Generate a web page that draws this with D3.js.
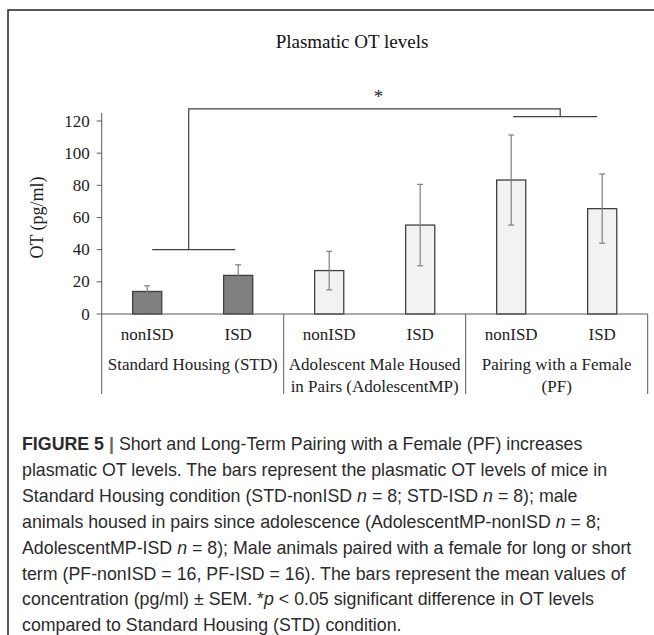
<!DOCTYPE html>
<html>
<head>
<meta charset="utf-8">
<script src="https://cdn.jsdelivr.net/npm/d3@7"></script>
<style>
  body { margin: 0; background: #fff; }
  svg { display: block; }
</style>
</head>
<body>
<div id="chart"></div>
<script>
// data (pg/ml, mean and SEM)
const groups = ["Standard Housing (STD)", "Adolescent Male Housed|in Pairs (AdolescentMP)", "Pairing with a Female|(PF)"];
const conditions = ["nonISD", "ISD"];
const means = [14, 24, 27, 55.3, 83.3, 65.5];
const sems = [3.5, 6.6, 12, 25.3, 28, 21.5];
const barFills = ["#7f7f7f", "#7f7f7f", "#f2f2f2", "#f2f2f2", "#f2f2f2", "#f2f2f2"];
const yTicks = [0, 20, 40, 60, 80, 100, 120];

// caption lines: [text, style] pieces
const caption = [
  [["FIGURE 5", "b"], [" | ", "bar"], ["Short and Long-Term Pairing with a Female (PF) increases", ""]],
  [["plasmatic OT levels. The bars represent the plasmatic OT levels of mice in", ""]],
  [["Standard Housing condition (STD-nonISD ", ""], ["n", "i"], [" = 8; STD-ISD ", ""], ["n", "i"], [" = 8); male", ""]],
  [["animals housed in pairs since adolescence (AdolescentMP-nonISD ", ""], ["n", "i"], [" = 8;", ""]],
  [["AdolescentMP-ISD ", ""], ["n", "i"], [" = 8); Male animals paired with a female for long or short", ""]],
  [["term (PF-nonISD = 16, PF-ISD = 16). The bars represent the mean values of", ""]],
  [["concentration (pg/ml) \u00b1 SEM. *", ""], ["p", "i"], [" < 0.05 significant difference in OT levels", ""]],
  [["compared to Standard Housing (STD) condition.", ""]]
];

const width = 654, height = 635;
const serif = "'Liberation Serif', 'Times New Roman', serif";

const svg = d3.select("#chart").append("svg")
  .attr("width", width)
  .attr("height", height);

// frame lines (left + top)
svg.append("path")
  .attr("d", "M8,635V10H654")
  .attr("fill", "none")
  .attr("stroke", "#222")
  .attr("stroke-width", 1.5);

// build bar rows
const bars = [];
groups.forEach((g, gi) => {
  conditions.forEach((c, ci) => {
    const i = gi * 2 + ci;
    bars.push({ key: g + "/" + c, group: gi, cond: c, mean: means[i], sem: sems[i], fill: barFills[i] });
  });
});

const x = d3.scaleBand()
  .domain(bars.map(d => d.key))
  .range([101.7, 647.7]);

const y = d3.scaleLinear()
  .domain([0, 120])
  .range([314, 121]);

const cx = d => x(d.key) + x.bandwidth() / 2;
const barW = x.bandwidth() * 0.32;

// title
svg.append("text")
  .attr("x", 352)
  .attr("y", 48)
  .attr("text-anchor", "middle")
  .style("font-family", serif)
  .style("font-size", "19px")
  .attr("fill", "#111")
  .text("Plasmatic OT levels");

// y axis
const yAxis = svg.append("g")
  .attr("transform", `translate(${x.range()[0]},0)`);
yAxis.append("line")
  .attr("y1", y(0))
  .attr("y2", y(125))
  .attr("stroke", "#595959");
yAxis.selectAll(".tick")
  .data(yTicks)
  .join("g")
  .attr("class", "tick")
  .attr("transform", d => `translate(0,${y(d)})`)
  .each(function (d) {
    const g = d3.select(this);
    g.append("line").attr("x1", -5).attr("x2", 0).attr("stroke", "#595959");
    g.append("text")
      .attr("x", -12)
      .attr("dy", "0.33em")
      .attr("text-anchor", "end")
      .style("font-family", serif)
      .style("font-size", "17px")
      .attr("fill", "#222")
      .text(d);
  });

svg.append("text")
  .attr("transform", `translate(43,${y(60)}) rotate(-90)`)
  .attr("text-anchor", "middle")
  .style("font-family", serif)
  .style("font-size", "18px")
  .attr("fill", "#222")
  .text("OT (pg/ml)");

// bars
svg.selectAll(".bar")
  .data(bars)
  .join("rect")
  .attr("class", "bar")
  .attr("x", d => cx(d) - barW / 2)
  .attr("y", d => y(d.mean))
  .attr("width", barW)
  .attr("height", d => y(0) - y(d.mean))
  .attr("fill", d => d.fill)
  .attr("stroke", "#404040")
  .attr("stroke-width", 1.3);

// error bars
const err = svg.selectAll(".err")
  .data(bars)
  .join("g")
  .attr("class", "err")
  .attr("stroke", "#7f7f7f")
  .attr("stroke-width", 1.2);
err.append("line")
  .attr("x1", cx).attr("x2", cx)
  .attr("y1", d => y(d.mean + d.sem))
  .attr("y2", d => y(d.mean - d.sem));
err.append("line")
  .attr("x1", d => cx(d) - 3).attr("x2", d => cx(d) + 3)
  .attr("y1", d => y(d.mean + d.sem)).attr("y2", d => y(d.mean + d.sem));
err.append("line")
  .attr("x1", d => cx(d) - 3).attr("x2", d => cx(d) + 3)
  .attr("y1", d => y(d.mean - d.sem)).attr("y2", d => y(d.mean - d.sem));

// x axis + group boxes
const axisBottom = 394;
svg.append("line")
  .attr("x1", x.range()[0]).attr("x2", x.range()[1])
  .attr("y1", y(0)).attr("y2", y(0))
  .attr("stroke", "#595959");
const seps = [0, 2, 4].map(i => x(bars[i].key)).concat([x.range()[1]]);
svg.selectAll(".sep")
  .data(seps)
  .join("line")
  .attr("class", "sep")
  .attr("x1", d => d).attr("x2", d => d)
  .attr("y1", y(0)).attr("y2", axisBottom)
  .attr("stroke", "#595959");

svg.selectAll(".cond")
  .data(bars)
  .join("text")
  .attr("class", "cond")
  .attr("x", cx)
  .attr("y", 340)
  .attr("text-anchor", "middle")
  .style("font-family", serif)
  .style("font-size", "17px")
  .attr("fill", "#222")
  .text(d => d.cond);

groups.forEach((g, gi) => {
  const mid = (seps[gi] + seps[gi + 1]) / 2;
  g.split("|").forEach((line, li) => {
    svg.append("text")
      .attr("x", mid)
      .attr("y", 370 + li * 22)
      .attr("text-anchor", "middle")
      .style("font-family", serif)
      .style("font-size", "17px")
      .attr("fill", "#222")
      .text(line);
  });
});

// significance bracket (STD vs the rest)
const left = (cx(bars[0]) + cx(bars[1])) / 2 - 4;
const right = (cx(bars[4]) + cx(bars[5])) / 2 + 3.5;
const br = svg.append("g").attr("fill", "none").attr("stroke", "#404040").attr("stroke-width", 1.2);
br.append("path")
  .attr("d", `M${left},${y(40)}V${y(127.5)}H${right}V${y(122.7)}`);
br.append("line")
  .attr("x1", cx(bars[0]) + 5).attr("x2", cx(bars[1]) - 3)
  .attr("y1", y(40)).attr("y2", y(40));
br.append("line")
  .attr("x1", cx(bars[4]) + 2).attr("x2", cx(bars[5]) - 5)
  .attr("y1", y(122.7)).attr("y2", y(122.7));
svg.append("text")
  .attr("x", (left + right) / 2 + 4)
  .attr("y", 103)
  .attr("text-anchor", "middle")
  .style("font-family", serif)
  .style("font-size", "19px")
  .attr("fill", "#222")
  .text("*");

// caption
const cap = svg.append("g")
  .style("font-family", "'Liberation Sans', Arial, sans-serif")
  .style("font-size", "17.8px")
  .attr("fill", "#2b2b2b");
caption.forEach((parts, li) => {
  const t = cap.append("text")
    .attr("x", 22)
    .attr("y", 450 + li * 25.9);
  parts.forEach(([s, st]) => {
    const sp = t.append("tspan").text(s);
    if (st === "i") sp.style("font-style", "italic");
    if (st === "b") sp.style("font-weight", "bold");
    if (st === "bar") sp.style("font-weight", "bold").attr("fill", "#666");
  });
});
</script>
</body>
</html>
